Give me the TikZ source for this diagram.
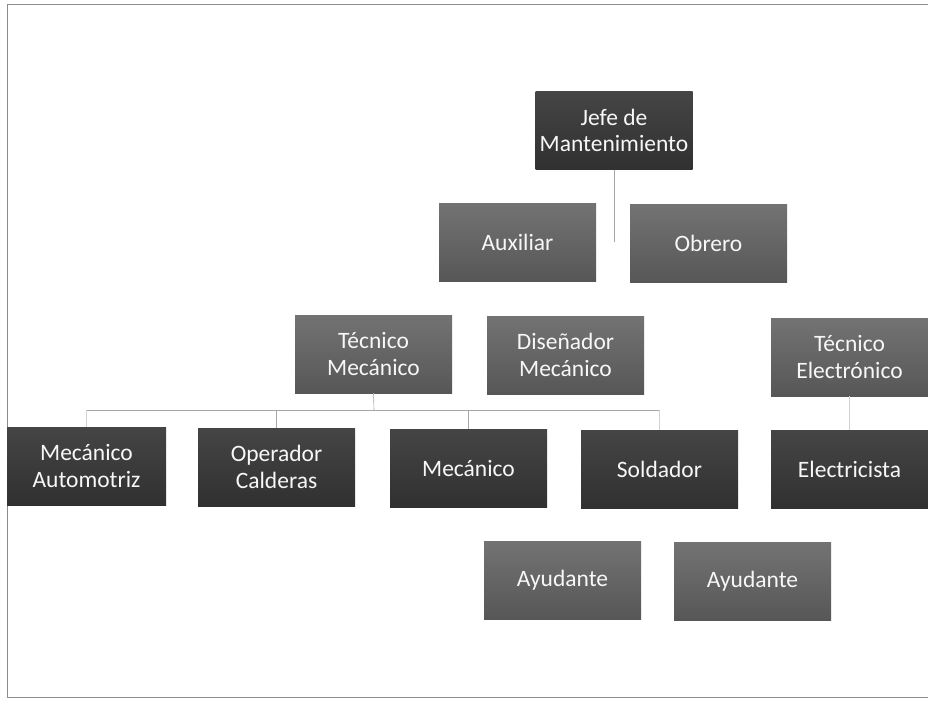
\documentclass[tikz,border=0pt]{standalone}
\usepackage{fontspec}
\setmainfont{Carlito}
\begin{document}
\begin{tikzpicture}[x=1pt,y=-1pt,
  box/.style={rectangle, minimum width=157pt, minimum height=78pt, inner sep=2pt,
    align=center, text=white!94!gray, font=\fontsize{23.5}{27}\selectfont},
  darkbox/.style={box, top color=black!73, bottom color=black!81},
  midbox/.style={box, top color=black!55, bottom color=black!66},
  link/.style={draw=black!35, line width=0.6pt},
  faint/.style={draw=black!18, line width=0.6pt}]
\useasboundingbox (0,0) rectangle (928,701);
% page frame
\draw[black!45, line width=0.8pt] (928,4) -- (7,4) -- (7,697) -- (928,697);

% top level
\node[darkbox, inner sep=0pt, font=\fontsize{23.5}{26}\selectfont] (jefe) at (614,130.5) {Jefe de\\Mantenimiento};
\node[midbox] (aux) at (517.5,242) {Auxiliar};
\node[midbox] (obr) at (708.5,243.5) {Obrero};

% technicians
\node[midbox] (tmec) at (373.5,354) {Técnico\\Mecánico};
\node[midbox] (dis) at (565.5,355) {Diseñador\\Mecánico};
\node[midbox] (tele) at (849.5,357) {Técnico\\Electrónico};

% workers
\node[darkbox, minimum width=159pt] (mauto) at (86.5,466) {Mecánico\\Automotriz};
\node[darkbox] (ope) at (276.5,467) {Operador\\Calderas};
\node[darkbox] (mec) at (468.5,468) {Mecánico};
\node[darkbox] (sol) at (659.5,469) {Soldador};
\node[darkbox] (ele) at (849.5,469.5) {Electricista};

% helpers
\node[midbox] (ay1) at (562.5,580) {Ayudante};
\node[midbox] (ay2) at (752.5,581.5) {Ayudante};

% connectors
\coordinate (asst) at (614,242);
\draw[link] (jefe.south) -- (asst);

\coordinate (bus) at (374,410);
\draw[link] (tmec.south) -- (bus);
\draw[link] (mauto.north |- bus) -- (sol.north |- bus);
\draw[faint] (mauto.north |- bus) -- (mauto.north);
\draw[link] (ope.north |- bus) -- (ope.north);
\draw[link] (mec.north |- bus) -- (mec.north);
\draw[faint] (sol.north |- bus) -- (sol.north);
\draw[faint] (tele.south) -- (ele.north);
\end{tikzpicture}
\end{document}
